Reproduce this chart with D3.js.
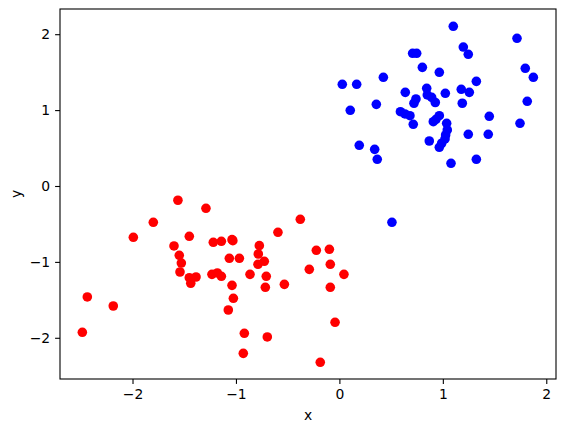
<!DOCTYPE html>
<html>
<head>
<meta charset="utf-8">
<script src="https://cdn.jsdelivr.net/npm/d3@7"></script>
<style>
  html, body { margin: 0; padding: 0; background: #fff; }
  svg { display: block; font-family: "DejaVu Sans", sans-serif; }
  .axis path, .axis line { stroke: #000; stroke-width: 1.1px; }
  .axis text { font-size: 13.9px; fill: #000; font-family: "DejaVu Sans", sans-serif; }
</style>
</head>
<body>
<script>
// red cluster (x, y)
const redX = [-1.561, -1.290, -1.799, -1.992, -1.451, -1.599, -1.548, -1.528, -1.541, -1.451,
  -1.437, -1.386, -1.219, -1.141, -1.038, -1.064, -0.967, -1.232, -1.180, -1.141,
  -1.038, -1.025, -1.074, -2.437, -2.186, -2.485, -0.774, -0.784, -0.787, -0.726,
  -0.864, -0.707, -0.716, -0.594, -0.378, -0.223, -0.097, -0.088, -0.291, 0.044,
  -0.532, -0.088, -0.042, -0.919, -0.697, -0.929, -0.185, -1.030];
const redY = [-0.188, -0.294, -0.478, -0.676, -0.663, -0.790, -0.913, -1.015, -1.133, -1.208,
  -1.282, -1.199, -0.742, -0.729, -0.707, -0.953, -0.953, -1.164, -1.146, -1.190,
  -1.309, -1.480, -1.634, -1.462, -1.581, -1.928, -0.786, -0.896, -1.032, -0.992,
  -1.164, -1.190, -1.335, -0.610, -0.439, -0.847, -0.834, -1.032, -1.098, -1.164,
  -1.296, -1.335, -1.796, -1.941, -1.989, -2.205, -2.323, -0.720];

// blue cluster (x, y)
const blueX = [1.101, 1.717, 1.198, 1.246, 0.708, 0.747, 0.802, 0.966, 1.797, 1.875,
  0.425, 0.028, 0.167, 1.324, 0.637, 0.844, 0.850, 0.892, 0.927, 1.024,
  1.178, 1.256, 0.740, 0.721, 1.188, 1.816, 0.357, 0.105, 0.590, 0.634,
  0.682, 0.714, 0.966, 0.934, 0.908, 1.037, 1.043, 1.027, 1.021, 0.989,
  0.966, 1.449, 1.439, 1.246, 1.746, 0.869, 0.192, 0.341, 0.366, 1.079,
  1.324, 0.508];
const blueY = [2.104, 1.946, 1.831, 1.735, 1.748, 1.748, 1.563, 1.498, 1.551, 1.432,
  1.432, 1.340, 1.340, 1.379, 1.234, 1.287, 1.200, 1.168, 1.100, 1.221,
  1.274, 1.234, 1.146, 1.090, 1.090, 1.116, 1.076, 0.997, 0.979, 0.949,
  0.926, 0.813, 0.926, 0.879, 0.847, 0.826, 0.738, 0.672, 0.620, 0.563,
  0.510, 0.918, 0.681, 0.681, 0.826, 0.593, 0.536, 0.483, 0.352, 0.299,
  0.352, -0.478];

const xTicks = [-2, -1, 0, 1, 2];
const yTicks = [-2, -1, 0, 1, 2];

const W = 565, H = 432;
const m = { left: 60, right: 556, top: 9, bottom: 379 };

const x = d3.scaleLinear().domain([-2.701, 2.094]).range([m.left, m.right]);
const y = d3.scaleLinear().domain([-2.543, 2.332]).range([m.bottom, m.top]);

const fmt = (d) => String(d).replace("-", "\u2212");

const svg = d3.select("body").append("svg")
  .attr("width", W).attr("height", H);

// markers (matplotlib scatter: 6pt face + 1pt same-colour edge)
const series = [
  { xs: redX, ys: redY, color: "#ff0000" },
  { xs: blueX, ys: blueY, color: "#0000ff" },
];
series.forEach((s) => {
  svg.append("g").selectAll("circle")
    .data(s.xs.map((v, i) => [v, s.ys[i]]))
    .join("circle")
    .attr("cx", (d) => x(d[0]))
    .attr("cy", (d) => y(d[1]))
    .attr("r", 4.8)
    .attr("fill", s.color);
});

// axes
svg.append("g").attr("class", "axis")
  .attr("transform", `translate(0,${m.bottom})`)
  .call(d3.axisBottom(x).tickValues(xTicks).tickFormat(fmt).tickSize(4.9).tickPadding(4.9).tickSizeOuter(0))
  .call((g) => g.select(".domain").remove());

svg.append("g").attr("class", "axis")
  .attr("transform", `translate(${m.left},0)`)
  .call(d3.axisLeft(y).tickValues(yTicks).tickFormat(fmt).tickSize(4.9).tickPadding(4.9).tickSizeOuter(0))
  .call((g) => g.select(".domain").remove());

// frame (spines)
svg.append("rect")
  .attr("x", m.left).attr("y", m.top)
  .attr("width", m.right - m.left).attr("height", m.bottom - m.top)
  .attr("fill", "none").attr("stroke", "#000").attr("stroke-width", 1.1);

// axis labels
svg.append("text")
  .attr("x", (m.left + m.right) / 2).attr("y", 420)
  .attr("text-anchor", "middle")
  .style("font-size", "13.9px")
  .text("x");

svg.append("text")
  .attr("transform", `translate(20.5,${(m.top + m.bottom) / 2}) rotate(-90)`)
  .attr("text-anchor", "middle")
  .style("font-size", "13.9px")
  .text("y");
</script>
</body>
</html>
